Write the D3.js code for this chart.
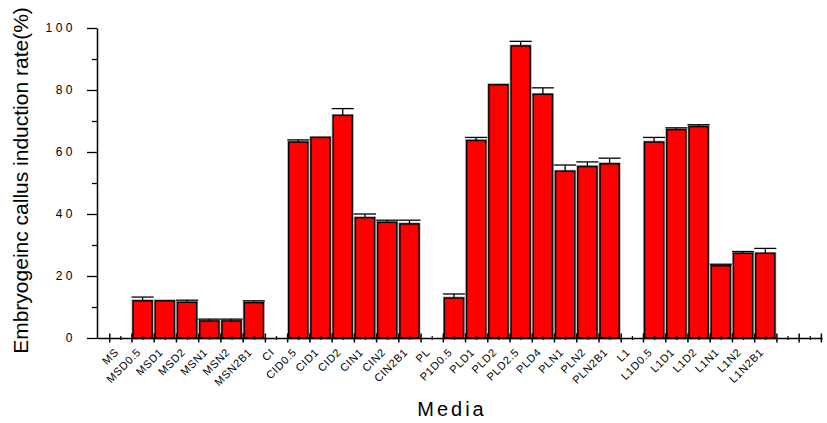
<!DOCTYPE html>
<html>
<head>
<meta charset="utf-8">
<script src="https://cdn.jsdelivr.net/npm/d3@7"></script>
<style>
  body { margin: 0; background: #fff; }
  svg { display: block; font-family: "Liberation Sans", Arial, sans-serif; }
</style>
</head>
<body>
<div id="chart"></div>
<script>
// Embryogenic callus induction rate per medium (bar + upper error bar)

const categories = ["MS", "MSD0.5", "MSD1", "MSD2", "MSN1", "MSN2", "MSN2B1",
  "CI", "CID0.5", "CID1", "CID2", "CIN1", "CIN2", "CIN2B1",
  "PL", "P1D0.5", "PLD1", "PLD2", "PLD2.5", "PLD4", "PLN1", "PLN2", "PLN2B1",
  "L1", "L1D0.5", "L1D1", "L1D2", "L1N1", "L1N2", "L1N2B1"];
const rates = [0, 12, 12, 11.5, 5.5, 5.5, 11.4,
  0, 63.2, 64.7, 71.8, 38.8, 37.3, 36.8,
  0, 12.9, 63.7, 81.7, 94.2, 78.6, 53.8, 55.3, 56.2,
  0, 63.2, 67.2, 68.2, 23.3, 27.3, 27.3];
const errors = [0, 1.2, 0, 0.7, 0.6, 0.6, 0.6,
  0, 0.7, 0, 2.2, 1.2, 0.7, 1.2,
  0, 1.3, 1.0, 0, 1.5, 2.1, 2.0, 1.5, 1.8,
  0, 1.5, 0.6, 0.6, 0.5, 0.6, 1.6];
const slotCount = 32; // two empty slots at the right end
const yMajor = [0, 20, 40, 60, 80, 100];
const yMinor = [10, 30, 50, 70, 90];

const width = 827, height = 423;
const plotLeft = 97, plotRight = 822, plotTop = 28, plotBottom = 338;

const svg = d3.select("#chart")
  .append("svg")
  .attr("width", width)
  .attr("height", height)
  .attr("viewBox", [0, 0, width, height]);

const x = d3.scaleLinear().domain([-0.55, slotCount + 0.05]).range([plotLeft, plotRight]);
const y = d3.scaleLinear().domain([0, 100]).range([plotBottom, plotTop]);

const slot = x(1) - x(0);
const barW = slot * 0.86;

const data = categories.map((c, i) => ({ name: c, i: i, v: rates[i], e: errors[i] }));

// bars (gray halo first, then red with black edge)
const bars = svg.append("g");
bars.selectAll("rect.halo")
  .data(data.filter(d => d.v > 0))
  .join("rect")
  .attr("class", "halo")
  .attr("x", d => x(d.i + 0.5) - barW / 2)
  .attr("width", barW)
  .attr("y", d => y(d.v))
  .attr("height", d => y(0) - y(d.v))
  .attr("fill", "none")
  .attr("stroke", "#9a9a9a")
  .attr("stroke-width", 2.8);
bars.selectAll("rect.bar")
  .data(data.filter(d => d.v > 0))
  .join("rect")
  .attr("class", "bar")
  .attr("x", d => x(d.i + 0.5) - barW / 2)
  .attr("width", barW)
  .attr("y", d => y(d.v))
  .attr("height", d => y(0) - y(d.v))
  .attr("fill", "#ff0000")
  .attr("stroke", "#000")
  .attr("stroke-width", 1.4);

// upper error bars
const err = svg.append("g").selectAll("g")
  .data(data.filter(d => d.v > 0 && d.e > 0))
  .join("g");
err.append("line")
  .attr("x1", d => x(d.i + 0.5))
  .attr("x2", d => x(d.i + 0.5))
  .attr("y1", d => y(d.v))
  .attr("y2", d => y(d.v + d.e))
  .attr("stroke", "#000")
  .attr("stroke-width", 1.3);
err.append("line")
  .attr("x1", d => x(d.i + 0.5) - barW / 2 - 1.5)
  .attr("x2", d => x(d.i + 0.5) + barW / 2 + 1.5)
  .attr("y1", d => y(d.v + d.e))
  .attr("y2", d => y(d.v + d.e))
  .attr("stroke", "#000")
  .attr("stroke-width", 1.3);

// y axis
const yAxis = svg.append("g")
  .attr("transform", `translate(${plotLeft},0)`)
  .call(d3.axisLeft(y).tickValues(yMajor).tickSize(10).tickSizeOuter(0).tickPadding(11));
yAxis.select(".domain").attr("stroke-width", 1.5);
yAxis.selectAll(".tick line").attr("stroke-width", 1.3);
yAxis.selectAll(".tick text")
  .attr("font-size", 12)
  .style("letter-spacing", "3.5px")
  .attr("fill", "#000")
  .attr("font-family", "Liberation Sans, Arial, sans-serif");

svg.append("g")
  .attr("transform", `translate(${plotLeft},0)`)
  .call(d3.axisLeft(y).tickValues(yMinor).tickSize(5).tickSizeOuter(0).tickFormat(""))
  .call(g => g.select(".domain").remove())
  .selectAll(".tick line").attr("stroke-width", 1.3);

// x axis: major ticks at slot edges crossing the line, minor at slot centres
const xAxis = svg.append("g")
  .attr("transform", `translate(0,${plotBottom})`)
  .call(d3.axisBottom(x).tickValues(d3.range(0, slotCount + 1)).tickSize(4.5).tickSizeOuter(0).tickFormat(""));
xAxis.select(".domain").attr("stroke-width", 1.5);
xAxis.selectAll(".tick line").attr("y1", -4.5).attr("stroke-width", 1.5);

svg.append("g")
  .attr("transform", `translate(0,${plotBottom})`)
  .call(d3.axisBottom(x).tickValues(d3.range(0.5, slotCount, 1)).tickSize(2).tickSizeOuter(0).tickFormat(""))
  .call(g => g.select(".domain").remove())
  .selectAll(".tick line").attr("y1", -2).attr("stroke-width", 1.2);

// rotated category labels
svg.append("g")
  .selectAll("text")
  .data(data)
  .join("text")
  .attr("transform", d => `translate(${x(d.i + 0.5) - 1},${plotBottom + 15}) rotate(-45)`)
  .attr("text-anchor", "end")
  .attr("font-size", 11)
  .style("letter-spacing", "0.6px")
  .attr("fill", "#000")
  .text(d => d.name);

// axis titles
svg.append("text")
  .attr("transform", `translate(28,${(8 + 353) / 2}) rotate(-90)`)
  .attr("text-anchor", "middle")
  .attr("font-size", 21)
  .attr("fill", "#000")
  .text("Embryogeinc callus induction rate(%)");

svg.append("text")
  .attr("x", 452)
  .attr("y", 416)
  .attr("text-anchor", "middle")
  .attr("font-size", 20)
  .style("letter-spacing", "3px")
  .attr("fill", "#000")
  .text("Media");
</script>
</body>
</html>
